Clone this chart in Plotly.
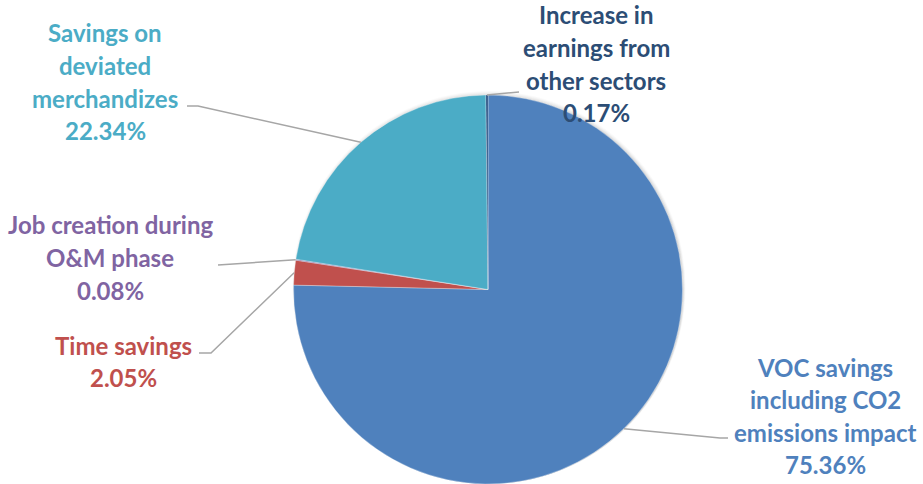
import math
import plotly.graph_objects as go

# Share of total economic benefits by component
categories = [
    "VOC savings including CO2 emissions impact",
    "Time savings",
    "Job creation during O&M phase",
    "Savings on deviated merchandizes",
    "Increase in earnings from other sectors",
]
values = [75.36, 2.05, 0.08, 22.34, 0.17]
label_lines = [
    ["VOC savings", "including CO2", "emissions impact"],
    ["Time savings"],
    ["Job creation during", "O&M phase"],
    ["Savings on", "deviated", "merchandizes"],
    ["Increase in", "earnings from", "other sectors"],
]
slice_colors = ["#4F81BD", "#C0504D", "#8064A2", "#4BACC6", "#1F497D"]
text_colors = ["#4F81BD", "#C0504D", "#8064A2", "#4BACC6", "#2C4D75"]

W, H = 923, 484
CX, CY, R = 488.0, 289.6, 194.6
LINE_H = 32.6
FONT = "Lato"
FONT_SIZE = 24

# label block placement (centre x, first-line centre y) in pixels
label_pos = [
    (825, 367),
    (124, 345),
    (110, 225),
    (105, 33),
    (596, 15),
]
# leader line waypoints from the label side toward the slice edge
leader_from = [
    [(728, 438), (720, 438)],
    [(199, 353), (211, 353)],
    [(218, 265)],
    [(187, 106), (198, 106)],
    [(519, 92)],
]


def px(x, y):
    return x / W, 1 - y / H


fig = go.Figure()

# soft drop shadow under the pie
for k, a in [(5, 0.02), (4, 0.025), (3, 0.03), (2, 0.035), (1, 0.045)]:
    r = R + k
    x0, y1 = px(CX - r + 1, CY - r + 1)
    x1, y0 = px(CX + r + 1, CY + r + 1)
    fig.add_trace(go.Pie(
        values=[1], marker=dict(colors=[f"rgba(0,0,0,{a})"], line=dict(width=0)),
        textinfo="none", hoverinfo="skip", showlegend=False, sort=False,
        domain=dict(x=[max(x0, 0), min(x1, 1)], y=[max(y0, 0), min(y1, 1)]),
    ))

dx0, dy1 = px(CX - R, CY - R)
dx1, dy0 = px(CX + R, CY + R)
fig.add_trace(go.Pie(
    labels=categories,
    values=values,
    sort=False,
    direction="clockwise",
    rotation=0,
    marker=dict(colors=slice_colors, line=dict(width=0.6, color="rgba(255,255,255,0.5)")),
    textinfo="none",
    showlegend=False,
    domain=dict(x=[dx0, dx1], y=[max(dy0, 0), dy1]),
))

total = sum(values)
cum = 0.0
shapes = []
annotations = []
for i, v in enumerate(values):
    mid = (cum + v / 2) / total * 2 * math.pi
    cum += v
    ex = CX + R * math.sin(mid)
    ey = CY - R * math.cos(mid)
    pts = leader_from[i] + [(ex, ey)]
    path = ""
    for j, (x, y) in enumerate(pts):
        u, w = px(x, y)
        path += ("M" if j == 0 else "L") + f" {u} {w} "
    shapes.append(dict(type="path", path=path, xref="paper", yref="paper",
                       line=dict(color="#A6A6A6", width=1.5)))

    lines = label_lines[i] + [f"{v:.2f}%"]
    lx, ly = label_pos[i]
    for j, t in enumerate(lines):
        u, w = px(lx, ly + j * LINE_H)
        annotations.append(dict(
            text=f"<b>{t}</b>", x=u, y=w, xref="paper", yref="paper",
            xanchor="center", yanchor="middle", showarrow=False,
            font=dict(family=FONT, size=FONT_SIZE, color=text_colors[i]),
        ))

fig.update_layout(
    width=W, height=H,
    margin=dict(l=0, r=0, t=0, b=0),
    paper_bgcolor="white",
    plot_bgcolor="white",
    shapes=shapes,
    annotations=annotations,
)

fig.write_html("out.html")
